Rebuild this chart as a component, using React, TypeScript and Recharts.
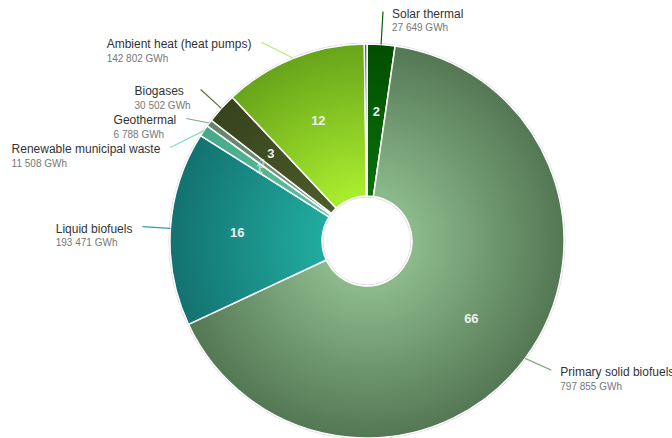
import { PieChart, Pie, Cell } from 'recharts';

// slices clockwise from 12 o'clock
const names = [
    'Solar thermal',
    'Primary solid biofuels',
    'Liquid biofuels',
    'Renewable municipal waste',
    'Geothermal',
    'Biogases',
    'Ambient heat (heat pumps)',
    'Other',
];
const values = [27649, 797855, 193471, 11508, 6788, 30502, 142802, 2600];
const showOuterLabel = [true, true, true, true, true, true, true, false];

// inner / outer gradient stops per slice
const innerColors = ['#0b6e0b', '#8bb98b', '#21aa9e', '#5fc2a2', '#7c9c82', '#4c5c2a', '#a8ec2e', '#4a6878'];
const outerColors = ['#004f00', '#547754', '#137270', '#46a888', '#62826a', '#36431c', '#68a41a', '#344e5c'];
const lineColors = ['#0a5e0a', '#7fae7f', '#27a39a', '#7fe0c0', '#7ea886', '#5c6b3a', '#b8ec70', '#445f6e'];

// small hand adjustments of the outside labels
const labelNudge: Record<string, { dx: number; dy: number }> = {
    'Solar thermal': { dx: 16, dy: -5 },
    'Primary solid biofuels': { dx: 0, dy: -5 },
    'Ambient heat (heat pumps)': { dx: 0, dy: 10 },
    'Geothermal': { dx: 8, dy: 0 },
    'Renewable municipal waste': { dx: 8, dy: 0 },
};

const CX = 367, CY = 241, OUTER = 197, INNER = 45;
const LABEL_R = 225;
const RADIAN = Math.PI / 180;
const FONT = '"Liberation Sans", Arial, Helvetica, sans-serif';

const fmt = (v: number) => v.toString().replace(/\B(?=(\d{3})+(?!\d))/g, ' ');

let ctx: CanvasRenderingContext2D | null = null;
const measure = (text: string, size: number) => {
    if (!ctx) ctx = document.createElement('canvas').getContext('2d');
    if (!ctx) return text.length * size * 0.55;
    ctx.font = `${size}px ${FONT}`;
    return ctx.measureText(text).width;
};

const data = names.map((name, i) => ({ name, value: values[i] }));
const total = values.reduce((a, b) => a + b, 0);

// work out where the outside labels go (push crowded ones down, like highcharts does)
const labelY: number[] = [];
{
    let acc = 0;
    const mids = values.map(v => {
        const m = 90 - ((acc + v / 2) / total) * 360;
        acc += v;
        return m;
    });
    const sides: { i: number; y: number }[][] = [[], []];
    mids.forEach((m, i) => {
        if (!showOuterLabel[i]) return;
        const y = CY - LABEL_R * Math.sin(m * RADIAN) + (labelNudge[names[i]]?.dy || 0);
        sides[Math.cos(m * RADIAN) < 0 ? 0 : 1].push({ i, y });
    });
    sides.forEach(side => {
        side.sort((a, b) => a.y - b.y);
        let prev = -Infinity;
        side.forEach(s => {
            const y = Math.max(s.y, prev + 29);
            labelY[s.i] = y;
            prev = y;
        });
    });
}

// eslint-disable-next-line @typescript-eslint/no-explicit-any
const renderLabel = (props: any) => {
    const { cx, cy, midAngle, outerRadius, innerRadius, index, value } = props;
    const pct = Math.round((value / total) * 100);
    const cos = Math.cos(-midAngle * RADIAN);
    const sin = Math.sin(-midAngle * RADIAN);
    const rIn = 130 * ((innerRadius + outerRadius) / 2) / 121;
    const ix = cx + rIn * cos;
    const iy = cy + rIn * sin;

    let outer = null;
    if (showOuterLabel[index]) {
        const left = cos < 0;
        const ey = labelY[index];
        const dy = ey - cy;
        const ex = cx + (left ? -1 : 1) * Math.sqrt(Math.max(0, LABEL_R * LABEL_R - dy * dy)) + (labelNudge[names[index]]?.dx || 0);
        const sx = cx + outerRadius * cos;
        const sy = cy + outerRadius * sin;
        const name = names[index];
        const val = `${fmt(value)} GWh`;
        const w = Math.max(measure(name, 12), measure(val, 10));
        const tx = left ? ex - 10 - w : ex + 9;
        outer = (
            <g>
                <path d={`M${sx},${sy}L${ex},${ey}`} stroke={lineColors[index]} strokeWidth={1.2} fill="none" />
                <text x={tx} y={ey + 6} fill="#333333" fontSize={12} fontFamily={FONT}>{name}</text>
                <text x={tx} y={ey + 19.5} fill="#777777" fontSize={10} fontFamily={FONT}>{val}</text>
            </g>
        );
    }

    return (
        <g>
            {outer}
            {pct > 0 && (
                <text x={ix} y={iy} textAnchor="middle" dominantBaseline="central" fill="#eeeeee"
                    fontSize={13} fontWeight="bold" fontFamily={FONT} fillOpacity={pct < 2 ? 0.6 : 1}>
                    {pct}
                </text>
            )}
        </g>
    );
};

export default function App() {
    return (
        <div style={{ position: 'absolute', left: 0, top: 0, background: '#fff' }}>
            <PieChart width={672} height={438} margin={{ top: 0, right: 0, bottom: 0, left: 0 }}>
                <defs>
                    {names.map((n, i) => (
                        <radialGradient key={n} id={`grad${i}`} gradientUnits="userSpaceOnUse" cx={CX} cy={CY} r={OUTER}>
                            <stop offset="0%" stopColor={innerColors[i]} />
                            <stop offset="25%" stopColor={innerColors[i]} />
                            <stop offset="100%" stopColor={outerColors[i]} />
                        </radialGradient>
                    ))}
                </defs>
                <circle cx={CX} cy={CY} r={OUTER + 1} fill="none" stroke="#d8d8d8" strokeWidth={1} />
                <Pie
                    data={data}
                    dataKey="value"
                    nameKey="name"
                    cx={CX}
                    cy={CY}
                    innerRadius={INNER}
                    outerRadius={OUTER}
                    startAngle={90}
                    endAngle={-270}
                    stroke="#ffffff"
                    strokeWidth={1.5}
                    label={renderLabel}
                    labelLine={false}
                    isAnimationActive={false}
                >
                    {data.map((d, i) => (
                        <Cell key={d.name} fill={`url(#grad${i})`} />
                    ))}
                </Pie>
                <circle cx={CX} cy={CY} r={INNER - 1} fill="none" stroke="#d8d8d8" strokeWidth={1} />
            </PieChart>
        </div>
    );
}
